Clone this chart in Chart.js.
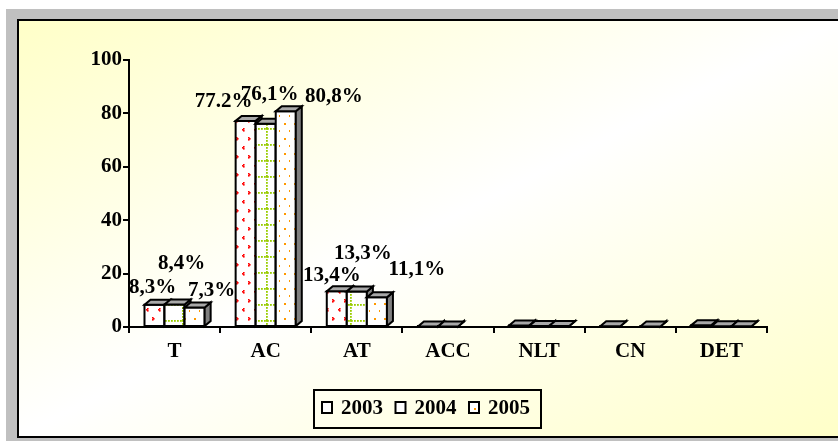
<!DOCTYPE html>
<html>
<head>
<meta charset="utf-8">
<script src="https://cdn.jsdelivr.net/npm/chart.js@4/dist/chart.umd.min.js"></script>
<style>
  html, body { margin: 0; padding: 0; background: #fff; }
  #wrap { width: 838px; height: 441px; position: relative; }
</style>
</head>
<body>
<div id="wrap"><canvas id="c" width="838" height="441"></canvas></div>
<script>
// Categories and yearly shares (%)
const categories = ['T', 'AC', 'AT', 'ACC', 'NLT', 'CN', 'DET'];
const seriesNames = ['2003', '2004', '2005'];
const values2003 = [8.3, 77.2, 13.4, 0.2, 0.6, 0.3, 0.7];
const values2004 = [8.4, 76.1, 13.3, 0.2, 0.4, null, 0.3];
const values2005 = [7.3, 80.8, 11.1, null, 0.4, 0.2, 0.3];
// Value labels shown above the first three groups
const labels2003 = ['8,3%', '77.2%', '13,4%', null, null, null, null];
const labels2004 = ['8,4%', '76,1%', '13,3%', null, null, null, null];
const labels2005 = ['7,3%', '80,8%', '11,1%', null, null, null, null];
const yTicks = [0, 20, 40, 60, 80, 100];

const canvas = document.getElementById('c');
const ctx = canvas.getContext('2d');
const FONT_SIZE = 21;
const FONT = 'bold ' + FONT_SIZE + 'px "Liberation Serif", "Times New Roman", serif';

function makePattern(w, h, paint) {
  const t = document.createElement('canvas');
  t.width = w; t.height = h;
  const g = t.getContext('2d');
  g.fillStyle = '#ffffff';
  g.fillRect(0, 0, w, h);
  paint(g);
  return ctx.createPattern(t, 'repeat');
}

// red chevrons
const pat2003 = makePattern(12, 18, g => {
  g.fillStyle = '#ff0000';
  [[3, 2], [2, 3], [3, 4], [8, 11], [9, 12], [8, 13]].forEach(([x, y]) => g.fillRect(x, y, 1.6, 1.6));
});
// green dotted grid
const pat2004 = makePattern(21, 16, g => {
  g.fillStyle = '#99cc00';
  for (let x = 0; x < 21; x += 3) g.fillRect(x, 0, 1.8, 1.8);
  for (let y = 0; y < 16; y += 3) g.fillRect(14, y, 1.8, 1.8);
});
// orange dots
const pat2005 = makePattern(10, 15, g => {
  g.fillStyle = '#ff9900';
  g.fillRect(4, 3, 2, 2);
  g.fillRect(9, 10, 2, 2);
});

const patterns = [pat2003, pat2004, pat2005];
const seriesValues = [values2003, values2004, values2005];
const seriesLabels = [labels2003, labels2004, labels2005];

// Offsets of each value label from its bar's top-centre
const labelOffsets = [
  [[-2, -17], [-22, -19], [-5, -16]],
  [[7, -41], [4, -29], [6, -38]],
  [[17, -17], [48, -15], [40, -28]]
];

const DX = 6, DY = 5;

const panelPlugin = {
  id: 'panel',
  beforeDraw(chart) {
    const c = chart.ctx, W = chart.width, H = chart.height;
    c.save();
    c.fillStyle = '#ffffff';
    c.fillRect(0, 0, W, H);
    c.fillStyle = '#c0c0c0';
    c.fillRect(6, 9, W - 6, H - 9);
    c.fillStyle = '#000000';
    c.fillRect(17, 19, W - 17, 419);
    const x0 = 19, y0 = 21, x1 = W, y1 = 436;
    const cx = (x0 + x1) / 2, cy = (y0 + y1) / 2;
    let nx = (y1 - y0), ny = (x1 - x0);
    const len = Math.hypot(nx, ny); nx /= len; ny /= len;
    const p = (x0 - cx) * nx + (y0 - cy) * ny;
    const grad = c.createLinearGradient(cx + p * nx, cy + p * ny, cx - p * nx, cy - p * ny);
    grad.addColorStop(0, '#ffffc8');
    grad.addColorStop(0.5, '#ffffff');
    grad.addColorStop(1, '#ffffc8');
    c.fillStyle = grad;
    c.fillRect(x0, y0, x1 - x0, y1 - y0);
    c.restore();
  }
};

// Bars are painted series by series, left to right, each with its
// front face, right side and top, so that the next bar hides the
// side of the one before it.
const depthPlugin = {
  id: 'depth',
  beforeDatasetDraw() { return false; },
  afterDatasetsDraw(chart) {
    const c = chart.ctx;
    c.save();
    c.lineWidth = 2;
    c.strokeStyle = '#000';
    c.lineJoin = 'miter';
    chart.data.datasets.forEach((ds, s) => {
      const meta = chart.getDatasetMeta(s);
      meta.data.forEach((bar, i) => {
        if (ds.data[i] == null) return;
        const { x, y, base, width } = bar.getProps(['x', 'y', 'base', 'width'], true);
        const l = x - width / 2, r = x + width / 2;
        bar.draw(c);
        c.beginPath();
        c.rect(l, y, width, base - y);
        c.stroke();
        c.beginPath();
        c.moveTo(r, y); c.lineTo(r + DX, y - DY); c.lineTo(r + DX, base - DY); c.lineTo(r, base);
        c.closePath();
        c.fillStyle = '#808080';
        c.fill(); c.stroke();
        c.beginPath();
        c.moveTo(l, y); c.lineTo(l + DX, y - DY); c.lineTo(r + DX, y - DY); c.lineTo(r, y);
        c.closePath();
        c.fillStyle = '#a8a8a8';
        c.fill(); c.stroke();
      });
    });
    c.restore();
  }
};

const valueLabelPlugin = {
  id: 'valueLabels',
  afterDatasetsDraw(chart) {
    const c = chart.ctx;
    c.save();
    c.font = FONT;
    c.fillStyle = '#000';
    c.textAlign = 'center';
    c.textBaseline = 'middle';
    seriesLabels.forEach((labs, s) => {
      const meta = chart.getDatasetMeta(s);
      labs.forEach((txt, i) => {
        if (!txt) return;
        const bar = meta.data[i];
        const off = labelOffsets[s][i];
        c.fillText(txt, bar.x + off[0], bar.y + off[1]);
      });
    });
    c.restore();
  }
};

const legendPlugin = {
  id: 'boxLegend',
  afterDraw(chart) {
    const c = chart.ctx;
    const bw = 227, bh = 38;
    const bx = Math.round((17 + chart.width) / 2 - bw / 2), by = 390;
    c.save();
    c.lineWidth = 2;
    c.strokeStyle = '#000';
    c.strokeRect(bx, by, bw, bh);
    c.font = FONT;
    c.fillStyle = '#000';
    c.textAlign = 'left';
    c.textBaseline = 'middle';
    seriesNames.forEach((name, s) => {
      const ix = bx + 8 + s * 73.5;
      c.fillStyle = patterns[s];
      c.fillRect(ix, by + 12, 10, 11);
      c.lineWidth = 2;
      c.strokeRect(ix, by + 12, 10, 11);
      c.fillStyle = '#000';
      c.fillText(name, ix + 19, by + 19);
    });
    c.restore();
  }
};

const tickFont = { family: '"Liberation Serif", serif', size: FONT_SIZE, weight: 'bold' };

new Chart(ctx, {
  type: 'bar',
  data: {
    labels: categories,
    datasets: seriesNames.map((name, s) => ({
      label: name,
      data: seriesValues[s],
      backgroundColor: patterns[s],
      borderColor: '#000',
      borderWidth: 0,
      borderSkipped: false,
      categoryPercentage: 0.66,
      barPercentage: 1.0
    }))
  },
  options: {
    responsive: false,
    animation: false,
    events: [],
    layout: { padding: { left: 0, right: 71, top: 60, bottom: 0 } },
    plugins: { legend: { display: false }, tooltip: { enabled: false } },
    scales: {
      x: {
        grid: { offset: true, drawOnChartArea: false, drawTicks: true, tickLength: 6, color: '#000', lineWidth: 2 },
        border: { display: true, color: '#000', width: 2 },
        ticks: { font: tickFont, color: '#000', padding: 6, maxRotation: 0, autoSkip: false },
        afterFit(s) { s.height = 114; }
      },
      y: {
        min: 0, max: 100,
        afterBuildTicks(s) { s.ticks = yTicks.map(v => ({ value: v })); },
        grid: { drawOnChartArea: false, drawTicks: true, tickLength: 6, color: '#000', lineWidth: 2 },
        border: { display: true, color: '#000', width: 2 },
        ticks: { font: tickFont, color: '#000', padding: 1 },
        afterFit(s) { s.width = 129; }
      }
    }
  },
  plugins: [panelPlugin, depthPlugin, valueLabelPlugin, legendPlugin]
});
</script>
</body>
</html>
